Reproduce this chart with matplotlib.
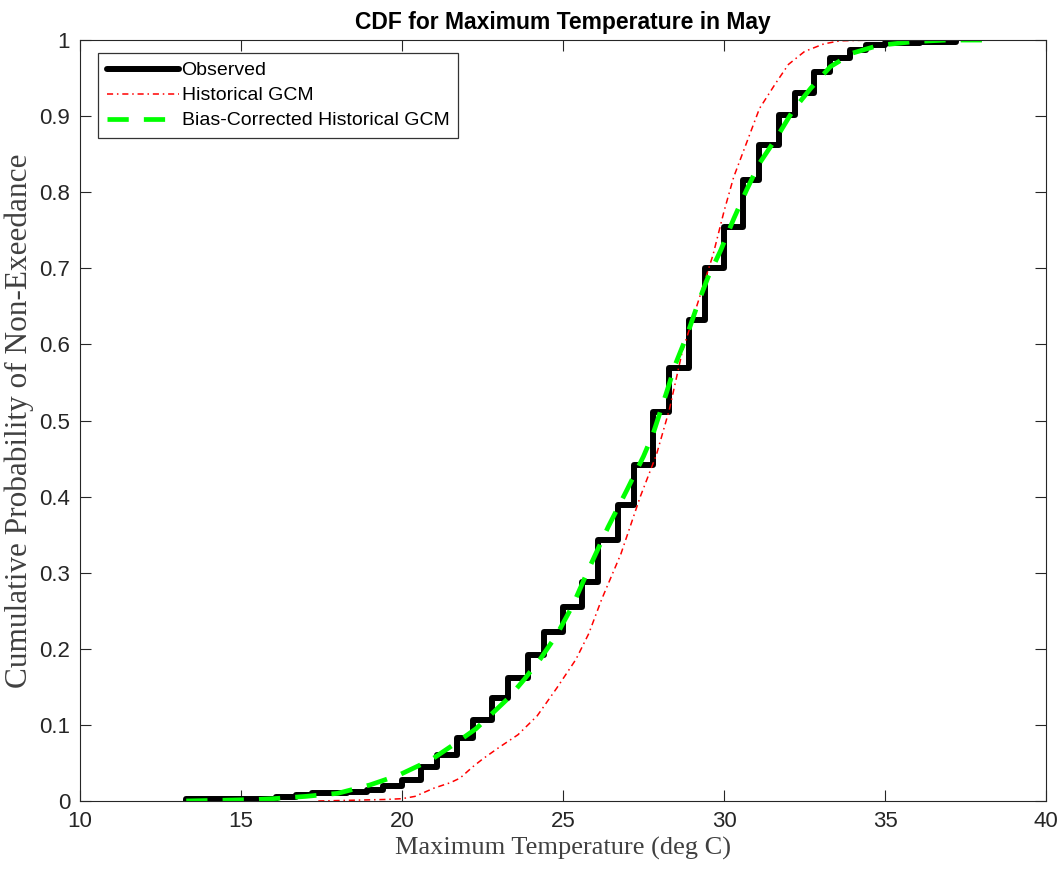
import matplotlib.pyplot as plt

# observed ECDF: jump locations (deg C) and level after each jump
obs_t = [13.3, 15.6, 16.1, 16.7, 17.2, 18.3, 18.9, 19.4, 20.0, 20.6, 21.1, 21.7,
         22.2, 22.8, 23.3, 23.9, 24.4, 25.0, 25.6, 26.1, 26.7, 27.2, 27.8, 28.3,
         28.9, 29.4, 30.0, 30.6, 31.1, 31.7, 32.2, 32.8, 33.3, 33.9, 34.4, 35.0,
         36.1, 37.2]
obs_p = [0.002, 0.003, 0.005, 0.008, 0.010, 0.012, 0.015, 0.020, 0.028, 0.045,
         0.060, 0.083, 0.106, 0.135, 0.162, 0.192, 0.222, 0.255, 0.288, 0.343,
         0.389, 0.441, 0.511, 0.569, 0.632, 0.700, 0.754, 0.816, 0.862, 0.901,
         0.930, 0.958, 0.976, 0.987, 0.993, 0.996, 0.998, 1.0]

# historical GCM CDF
gcm_t = [17.4, 18.5, 19.5, 20.0, 20.4, 21.0, 21.5, 21.8, 22.2, 22.5, 23.0, 23.6,
         24.2, 24.8, 25.4, 25.8, 26.2, 26.8, 27.4, 27.9, 28.3, 28.7, 29.0, 29.3,
         29.66, 30.0, 30.3, 30.7, 31.1, 31.6, 32.0, 32.5, 33.1, 33.6, 34.6]
gcm_p = [0.0, 0.001, 0.002, 0.003, 0.006, 0.017, 0.024, 0.030, 0.045, 0.055,
         0.070, 0.087, 0.112, 0.148, 0.186, 0.220, 0.265, 0.325, 0.400, 0.455,
         0.514, 0.590, 0.630, 0.670, 0.718, 0.775, 0.820, 0.865, 0.910, 0.943,
         0.968, 0.985, 0.995, 0.999, 1.0]

# bias-corrected GCM CDF
bc_t = [13.3, 14.5, 15.5, 16.0, 17.0, 18.0, 19.0, 19.9, 20.9, 21.6, 22.3, 22.8,
        23.3, 23.8, 24.3, 24.8, 25.3, 25.8, 26.4, 27.0, 27.5, 27.8, 28.2, 28.5,
        28.85, 29.2, 29.5, 29.9, 30.3, 30.7, 31.1, 31.65, 32.15, 32.7, 33.3,
        34.0, 34.8, 35.9, 36.9, 38.1]
bc_p = [0.0, 0.001, 0.002, 0.003, 0.006, 0.010, 0.021, 0.034, 0.054, 0.074,
        0.095, 0.115, 0.135, 0.160, 0.187, 0.218, 0.257, 0.305, 0.360, 0.410,
        0.453, 0.483, 0.535, 0.575, 0.612, 0.655, 0.688, 0.724, 0.765, 0.803,
        0.838, 0.873, 0.908, 0.937, 0.965, 0.983, 0.993, 0.998, 1.0, 1.0]

fig = plt.figure(figsize=(10.62, 8.71), dpi=100)
ax = fig.add_axes([0.0753, 0.0804, 0.9097, 0.8736])

ax.step([obs_t[0]] + obs_t, [0.0] + obs_p, where='post', color='black',
        linewidth=4.3, solid_joinstyle='round', solid_capstyle='round',
        label='Observed')
ax.plot(gcm_t, gcm_p, color='red', linestyle=(0, (4, 2.5, 1, 2.5)), linewidth=1.1,
        label='Historical GCM')
ax.plot(bc_t, bc_p, color=(0, 1, 0), linestyle=(0, (4.5, 3.2)), linewidth=3.4,
        label='Bias-Corrected Historical GCM')

ax.set_xlim(10, 40)
ax.set_ylim(0, 1)
ax.set_xticks(range(10, 41, 5))
ax.set_yticks([i / 10 for i in range(11)])
ax.set_yticklabels(['0'] + ['%.1f' % (i / 10) for i in range(1, 10)] + ['1'])

ax.tick_params(direction='in', length=8, width=0.8, color='#262626',
               labelcolor='#262626', top=True, right=True, labelsize=16, pad=7)
for lab in ax.get_xticklabels() + ax.get_yticklabels():
    lab.set_fontfamily('Liberation Sans')
for s in ax.spines.values():
    s.set_color('#262626')
    s.set_linewidth(0.8)

ax.set_title('CDF for Maximum Temperature in May', fontsize=16.5,
             fontweight='bold', family='Liberation Sans', pad=8)
ax.set_xlabel('Maximum Temperature (deg C)', fontsize=19,
              family='Liberation Serif', color='#404040', labelpad=4)
ax.set_ylabel('Cumulative Probability of Non-Exeedance', fontsize=22.5,
              family='Liberation Serif', color='#404040', labelpad=4)

leg = ax.legend(loc='upper left', bbox_to_anchor=(0.0186, 0.983),
                prop={'family': 'Liberation Sans', 'size': 14},
                frameon=True, fancybox=False, edgecolor='black',
                handlelength=3.7, handletextpad=0.15, borderpad=0.45,
                labelspacing=0.38, borderaxespad=0.0)
leg.get_frame().set_linewidth(0.9)

fig.savefig('out.png', dpi=100)
